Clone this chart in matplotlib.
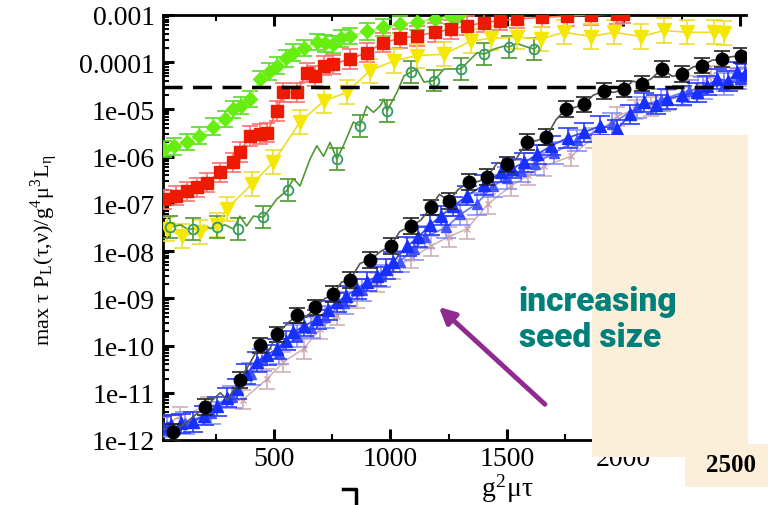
import numpy as np
import matplotlib
matplotlib.use("Agg")
import matplotlib.pyplot as plt
from matplotlib.patches import Rectangle
from matplotlib.lines import Line2D
from matplotlib.ticker import FixedLocator, FixedFormatter, LogLocator, NullFormatter

plt.rcParams['font.family'] = ['Liberation Serif', 'DejaVu Serif']
plt.rcParams['mathtext.fontset'] = 'stix'

# ---- data ----
green_x = [30, 70, 126, 180, 240, 290, 326, 360, 397, 440, 480, 512, 550, 584, 630, 684,
           720, 755, 790, 826, 900, 970, 1040, 1113, 1190, 1260, 1300]
green_y = [1.45e-6, 1.66e-6, 2.04e-6, 2.8e-6, 4.3e-6, 6.3e-6, 1.0e-5, 1.2e-5, 1.66e-5, 4.4e-5,
           6.3e-5, 8.5e-5, 1.2e-4, 1.6e-4, 2.0e-4, 2.7e-4, 2.5e-4, 2.4e-4, 3.2e-4, 3.6e-4,
           4.5e-4, 5.5e-4, 6.3e-4, 7.1e-4, 8.3e-4, 9.5e-4, 1.05e-3]

red_x = [30, 80, 126, 170, 212, 268, 326, 354, 397, 440, 470, 512, 541, 598, 641, 677, 713,
         755, 826, 898, 970, 1040, 1113, 1190, 1260, 1330, 1402, 1470, 1543, 1650, 1757,
         1860, 1972, 2000]
red_y = [1.26e-7, 1.48e-7, 1.86e-7, 2.24e-7, 2.8e-7, 4.7e-7, 7.6e-7, 1.26e-6, 2.75e-6, 3.0e-6,
         3.2e-6, 9.3e-6, 2.3e-5, 2.3e-5, 6.0e-5, 5.1e-5, 8.5e-5, 9.1e-5, 1.17e-4, 1.6e-4,
         2.6e-4, 3.2e-4, 3.6e-4, 4.3e-4, 5.0e-4, 5.9e-4, 6.9e-4, 7.6e-4, 8.3e-4, 8.9e-4,
         9.5e-4, 1.0e-3, 1.05e-3, 1.07e-3]

yellow_x = [40, 105, 182, 255, 298, 405, 497, 612, 713, 813, 912, 1015, 1113, 1230, 1345,
            1431, 1543, 1645, 1745, 1861, 1960, 2076, 2175, 2273, 2389, 2432]
yellow_y = [2.95e-8, 2.1e-8, 2.5e-8, 3.5e-8, 7.9e-8, 2.6e-7, 7.6e-7, 5.4e-6, 1.5e-5, 2.3e-5,
            6.6e-5, 1.07e-4, 1.38e-4, 1.48e-4, 2.8e-4, 3.2e-4, 3.4e-4, 3.1e-4, 4.3e-4, 3.5e-4,
            4.3e-4, 3.5e-4, 4.7e-4, 4.3e-4, 4.3e-4, 4.2e-4]

dgreen_x = [54, 154, 255, 347, 455, 562, 770, 869, 985, 1088, 1187, 1303, 1402, 1509, 1617]
dgreen_y = [3.2e-8, 2.95e-8, 3.2e-8, 2.95e-8, 5.2e-8, 2.0e-7, 8.9e-7, 4.5e-6, 9.3e-6, 6.2e-5,
            4.1e-5, 7.2e-5, 1.48e-4, 2.1e-4, 1.9e-4]
dgreen_line_x = [30, 54, 100, 130, 154, 200, 230, 255, 290, 326, 354, 383, 412, 455, 512, 555,
                 584, 612, 655, 684, 713, 741, 770, 798, 841, 869, 898, 927, 955, 972, 985,
                 1028, 1058, 1088, 1113, 1144, 1187, 1230, 1303, 1345, 1372, 1402, 1445, 1488,
                 1509, 1543, 1586, 1617, 1630]
dgreen_line_y = [3.3e-8, 3.2e-8, 3.6e-8, 2.9e-8, 2.95e-8, 3.5e-8, 3.0e-8, 3.2e-8, 3.6e-8,
                 2.95e-8, 5.5e-8, 3.4e-8, 5.5e-8, 5.2e-8, 1.26e-7, 1.9e-7, 3.4e-7, 2.4e-7,
                 8.9e-7, 1.7e-6, 1.02e-6, 2.0e-6, 8.9e-7, 1.7e-6, 5.4e-6, 4.5e-6, 1.17e-5,
                 8.7e-6, 1.17e-5, 1.66e-5, 9.3e-6, 2.3e-5, 5.1e-5, 6.2e-5, 7.2e-5, 3.8e-5,
                 4.1e-5, 7.2e-5, 7.2e-5, 1.17e-4, 1.6e-4, 1.48e-4, 1.9e-4, 2.2e-4, 2.1e-4,
                 2.5e-4, 2.1e-4, 1.9e-4, 2.2e-4]

black_x = [68, 204, 354, 440, 512, 598, 677, 755, 826, 912, 1002, 1088, 1174, 1251, 1337,
           1414, 1500, 1586, 1669, 1753, 1832, 1918, 2003, 2080, 2166, 2252, 2338, 2423, 2505]
black_y = [1.48e-12, 5.0e-12, 1.86e-11, 1.02e-10, 1.74e-10, 4.4e-10, 6.5e-10, 1.23e-9, 2.45e-9,
           6.5e-9, 1.29e-8, 3.4e-8, 8.5e-8, 1.15e-7, 2.9e-7, 3.7e-7, 6.9e-7, 2.04e-6, 2.6e-6,
           1.02e-5, 1.29e-5, 2.45e-5, 2.7e-5, 3.5e-5, 7.2e-5, 5.6e-5, 8.5e-5, 1.17e-4, 1.38e-4]
black_line_x = [20, 68, 130, 204, 270, 300, 354, 400, 440, 480, 512, 560, 598, 640, 677, 720,
                755, 790, 826, 870, 912, 960, 1002, 1040, 1088, 1130, 1174, 1210, 1251, 1290,
                1337, 1380, 1414, 1460, 1500, 1540, 1586, 1630, 1669, 1710, 1753, 1790, 1832,
                1870, 1918, 1960, 2003, 2040, 2080, 2120, 2166, 2210, 2252, 2300, 2338, 2380,
                2423, 2460, 2505, 2530]
black_line_y = [1.8e-12, 1.48e-12, 2.5e-12, 5.0e-12, 1.0e-11, 7e-12, 1.86e-11, 4.5e-11,
                1.02e-10, 8e-11, 1.74e-10, 3.0e-10, 4.4e-10, 4.0e-10, 6.5e-10, 1.0e-9, 1.23e-9,
                2.2e-9, 2.45e-9, 5.5e-9, 6.5e-9, 1.0e-8, 1.29e-8, 2.6e-8, 3.4e-8, 4.5e-8,
                8.5e-8, 1.6e-7, 1.15e-7, 2.0e-7, 2.9e-7, 3.0e-7, 3.7e-7, 7.5e-7, 6.9e-7,
                9.0e-7, 2.04e-6, 2.2e-6, 2.6e-6, 6.0e-6, 1.02e-5, 1.1e-5, 1.29e-5, 2.0e-5,
                2.45e-5, 2.3e-5, 2.7e-5, 4.0e-5, 3.5e-5, 4.5e-5, 7.2e-5, 5.0e-5, 5.6e-5,
                8.0e-5, 8.5e-5, 1.1e-4, 1.17e-4, 1.3e-4, 1.38e-4, 1.45e-4]

blue_x = [20, 60, 100, 153, 200, 255, 300, 341, 380, 427, 470, 513, 550, 582, 630, 684, 730,
          770, 810, 856, 900, 942, 980, 1011, 1071, 1120, 1170, 1217, 1270, 1328, 1400, 1475,
          1520, 1575, 1630, 1690, 1760, 1832, 1900, 1972, 2030, 2090, 2140, 2188, 2250, 2317,
          2360, 2403, 2450, 2489, 2520]
blue_y = [2.0e-12, 2.1e-12, 2.24e-12, 2.4e-12, 3.3e-12, 5.2e-12, 7.9e-12, 1.2e-11, 2.5e-11,
          4.5e-11, 6.3e-11, 8.5e-11, 1.26e-10, 1.9e-10, 2.6e-10, 3.6e-10, 5.6e-10, 8.3e-10,
          1.12e-9, 1.58e-9, 2.24e-9, 2.95e-9, 4.2e-9, 5.9e-9, 1.26e-8, 2.0e-8, 3.55e-8, 5.6e-8,
          8.9e-8, 1.48e-7, 2.5e-7, 4.7e-7, 5.6e-7, 7.6e-7, 1.12e-6, 1.7e-6, 2.5e-6, 3.3e-6,
          4.5e-6, 3.8e-6, 7.9e-6, 1.41e-5, 1.26e-5, 1.66e-5, 2.0e-5, 2.3e-5, 3.2e-5, 4.4e-5,
          4.0e-5, 6.2e-5, 5.6e-5]

# other blue runs, overlapping the first one
blue2_x = [40, 120, 230, 320, 400, 450, 520, 600, 660, 720, 800, 880, 960, 1040, 1100, 1150,
           1240, 1300, 1370, 1440, 1500, 1560, 1620, 1700, 1800, 1950, 2060, 2160, 2280, 2340,
           2430, 2500]
blue2_y = [2.0e-12, 2.3e-12, 3.8e-12, 8e-12, 2.5e-11, 5e-11, 7e-11, 1.6e-10, 2.4e-10, 4e-10,
           8e-10, 1.5e-9, 3e-9, 6e-9, 1.1e-8, 2.0e-8, 3.2e-8, 6e-8, 1.0e-7, 2.4e-7, 3.5e-7,
           5e-7, 7e-7, 1.2e-6, 2.2e-6, 5e-6, 1.1e-5, 1.6e-5, 2.5e-5, 2.8e-5, 3.5e-5, 4.5e-5]

pink_x = [20, 97, 217, 368, 470, 541, 627, 698, 770, 856, 942, 1011, 1090, 1174, 1250, 1328,
          1420, 1517, 1590, 1660, 1775, 1870, 1972, 2050, 2118, 2190, 2260, 2320, 2376, 2430,
          2489, 2530]
pink_y = [1.9e-12, 3.2e-12, 5.2e-12, 7.2e-12, 1.95e-11, 4.5e-11, 8.5e-11, 2.24e-10, 4.3e-10,
          1.0e-9, 2.2e-9, 4.2e-9, 7.1e-9, 1.29e-8, 2.0e-8, 2.95e-8, 1.0e-7, 2.4e-7, 4.0e-7,
          6.3e-7, 1.02e-6, 2.5e-6, 7.2e-6, 1.0e-5, 1.17e-5, 1.58e-5, 1.9e-5, 3.2e-5, 5.1e-5,
          4.0e-5, 4.4e-5, 5.0e-5]

threshold = 3e-5

xticks = [500, 1000, 1500, 2000, 2500]
xtick_labels = ['500', '1000', '1500', '2000', '']   # 2500 is covered, redrawn on the overlay
yticks = [1e-12, 1e-11, 1e-10, 1e-9, 1e-8, 1e-7, 1e-6, 1e-5, 1e-4, 1e-3]
ytick_labels = ['1e-12', '1e-11', '1e-10', '1e-09', '1e-08', '1e-07', '1e-06', '1e-05',
                '0.0001', '0.001']


def errs(y, f):
    y = np.asarray(y)
    return [y - y / f, y * f - y]


def series(ax, x, y, f, mcolor, lcolor, ecolor, marker, ms, z, mfc=None, lx=None, ly=None,
           lw=1.2, mew=1.0, cap=6, eaplha=1.0):
    ax.errorbar(x, y, yerr=errs(y, f), fmt='none', ecolor=ecolor, elinewidth=1.2,
                capsize=cap, capthick=1.2, zorder=z, alpha=eaplha)
    ax.plot(lx if lx is not None else x, ly if ly is not None else y, '-', color=lcolor,
            lw=lw, zorder=z + 0.1)
    ax.plot(x, y, linestyle='none', marker=marker, ms=ms,
            mfc=mcolor if mfc is None else mfc, mec=mcolor, mew=mew, zorder=z + 0.2)


fig = plt.figure(figsize=(7.68, 5.06), dpi=100)
ax = fig.add_axes([163 / 768, 1 - 441 / 506, (746 - 163) / 768, (441 - 16) / 506])
ax.set_yscale('log')

series(ax, green_x, green_y, 1.5, '#66ee11', '#99ff55', '#55dd22', 'D', 7, 3)
series(ax, red_x, red_y, 1.6, '#ee1a00', '#ff6a5a', '#ff7070', 's', 8.5, 3)
series(ax, yellow_x, yellow_y, 1.8, '#f5e800', '#eedd22', '#eedd33', 'v', 10, 3)
series(ax, dgreen_x, dgreen_y, 1.7, '#2f9a6a', '#4f9a30', '#4f9a30', 'o', 7, 3,
       mfc='none', lx=dgreen_line_x, ly=dgreen_line_y, mew=1.3)
series(ax, pink_x, pink_y, 1.6, '#c9a4aa', '#cfa8ae', '#d0b0b6', 'x', 5, 3.6, lw=1.0)
series(ax, blue2_x, blue2_y, 1.7, '#4455ff', '#6677ff', '#6a78ff', '^', 7, 3.8, cap=7,
       eaplha=0.8)
series(ax, blue_x, blue_y, 1.6, '#1830ff', '#3344ff', '#2a3cff', '^', 8, 4, cap=7)
series(ax, black_x, black_y, 1.45, '#000000', '#555555', '#222222', 'o', 9, 5,
       lx=black_line_x, ly=black_line_y)

ax.axhline(threshold, color='k', lw=2.5, dashes=(5.5, 3), zorder=6)

ax.set_xlim(24, 2526)
ax.set_ylim(1e-12, 1e-3)
ax.xaxis.set_major_locator(FixedLocator(xticks))
ax.xaxis.set_major_formatter(FixedFormatter(xtick_labels))
ax.set_xticks([250, 750, 1250, 1750, 2250], minor=True)
ax.yaxis.set_major_locator(FixedLocator(yticks))
ax.yaxis.set_major_formatter(FixedFormatter(ytick_labels))
ax.yaxis.set_minor_locator(LogLocator(base=10, subs=np.arange(2, 10), numticks=30))
ax.yaxis.set_minor_formatter(NullFormatter())

ax.tick_params(which='both', direction='in', top=True, right=False, labelsize=20)
ax.tick_params(which='major', length=8, width=2.2)
ax.tick_params(which='minor', length=4.5, width=1.5)
ax.tick_params(axis='y', pad=6)
ax.tick_params(axis='x', pad=4)
for side in ['left', 'bottom', 'top']:
    ax.spines[side].set_linewidth(2)
ax.spines['right'].set_visible(False)

fig.text(507 / 768, 1 - 489 / 506, r'g$^{\mathregular{2}}$μτ', fontsize=20, ha='center',
         va='center')
fig.text(44 / 768, 1 - 250 / 506,
         r'max τ P$_{\mathregular{L}}$(τ,ν)/g$^{\mathregular{4}}$μ$^{\mathregular{3}}$'
         r'L$_{\mathregular{η}}$',
         fontsize=16, rotation=90, ha='center', va='center')

# slide overlay
fig.add_artist(Rectangle((592 / 768, 1 - 458 / 506), (748 - 592) / 768, (458 - 136) / 506,
                         transform=fig.transFigure, fc='#fcefda', ec='none', zorder=5))
fig.add_artist(Rectangle((685 / 768, 1 - 488 / 506), (768 - 685) / 768, (488 - 445) / 506,
                         transform=fig.transFigure, fc='#fcefda', ec='none', zorder=5))
fig.text(731 / 768, 1 - 466 / 506, '2500', fontsize=18, fontweight='bold', ha='center',
         va='center', zorder=6)
fig.add_artist(Line2D([343 / 768, 356 / 768, 356 / 768], [1 - 490 / 506, 1 - 490 / 506, 0],
                      transform=fig.transFigure, color='k', lw=2.5, zorder=6))

ax.annotate('', xy=(1199, 7.2e-10), xytext=(1672, 5.2e-12),
            arrowprops=dict(arrowstyle='-|>', color='#8e2a90', lw=3.5, mutation_scale=24),
            zorder=7)
fig.text(519 / 768, 1 - 320 / 506, 'increasing\nseed size', fontsize=24, fontweight='black',
         family=['Roboto', 'DejaVu Sans'], color='#00807a', ha='left', va='center',
         linespacing=1.15, zorder=7)

fig.savefig('out.png', dpi=100)
